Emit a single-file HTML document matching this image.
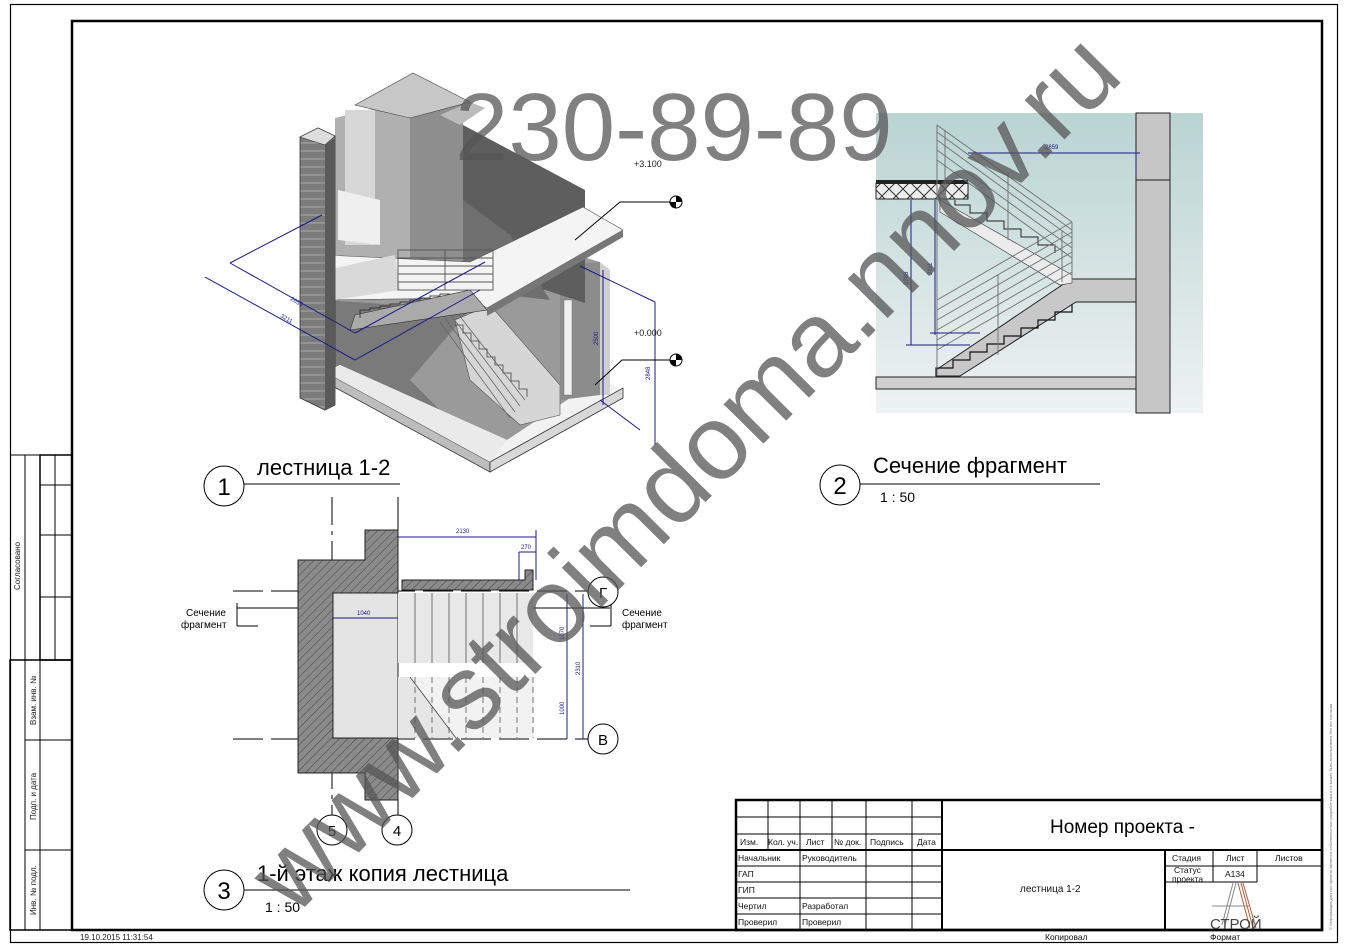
<!DOCTYPE html>
<html><head><meta charset="utf-8"><style>
html,body{margin:0;padding:0;background:#fff}
svg{display:block}
text{font-family:"Liberation Sans",sans-serif}
</style></head><body>
<svg width="1368" height="952" viewBox="0 0 1368 952" xmlns="http://www.w3.org/2000/svg">
<defs>
<pattern id="hat" width="6" height="6" patternUnits="userSpaceOnUse" patternTransform="rotate(45)">
<rect width="6" height="6" fill="#8a8a8a"/><line x1="0" y1="0" x2="0" y2="6" stroke="#444" stroke-width="1"/></pattern>
<pattern id="brick" width="8" height="8" patternUnits="userSpaceOnUse">
<rect width="8" height="8" fill="#7c7c7c"/><line x1="0" y1="7" x2="8" y2="7" stroke="#aaa" stroke-width="1"/></pattern>
<pattern id="dia" width="14" height="14" patternUnits="userSpaceOnUse">
<rect width="14" height="14" fill="#eee"/><path d="M0 0L14 14M14 0L0 14" stroke="#333" stroke-width="1"/></pattern>
<linearGradient id="sky" x1="0" y1="0" x2="0" y2="1"><stop offset="0" stop-color="#b9d4d2"/><stop offset="1" stop-color="#eef2f2"/></linearGradient>
</defs>

<rect x="10.5" y="4.5" width="1327" height="938" fill="none" stroke="#000" stroke-width="1.2"/>
<rect x="72" y="21" width="1250" height="909" fill="none" stroke="#000" stroke-width="2.5"/>

<g stroke="#000" stroke-width="1" fill="none">
<rect x="40" y="455" width="32" height="205" stroke-width="1.5"/>
<rect x="10" y="660" width="62" height="270" stroke-width="1.5"/>
<line x1="25" y1="455" x2="25" y2="660"/><line x1="10" y1="455" x2="40" y2="455"/>
<line x1="55" y1="455" x2="55" y2="660"/>
<line x1="40" y1="485" x2="72" y2="485"/><line x1="40" y1="535" x2="72" y2="535"/><line x1="40" y1="597" x2="72" y2="597"/>
<line x1="25" y1="660" x2="25" y2="930"/><line x1="40" y1="660" x2="40" y2="930"/>
<line x1="25" y1="740" x2="72" y2="740"/><line x1="25" y1="850" x2="72" y2="850"/>
</g>
<g font-size="8" fill="#222">
<text transform="translate(20,590) rotate(-90)">Согласовано</text>
<text transform="translate(36,725) rotate(-90)">Взам. инв. №</text>
<text transform="translate(36,820) rotate(-90)">Подп. и дата</text>
<text transform="translate(36,915) rotate(-90)">Инв. № подл.</text>
</g>
<text x="80" y="940" font-size="8" fill="#222">19.10.2015 11:31:54</text>
<text transform="translate(1332,930) rotate(-90)" font-size="4" fill="#666">© Информация данного проекта является собственностью разработчика и не может быть использована без его согласия</text>

<g>
<polygon points="325,290 470,298 560,250 600,262 600,395 507,462 325,372" fill="#9a9a9a"/>
<polygon points="325,300 470,310 410,380 490,460 325,372" fill="#7a7a7a"/>
<polygon points="325,372 490,462 623,390 600,378 507,440 340,365" fill="#f2f2f2"/>
<polygon points="325,372 490,462 490,472 325,382" fill="#bdbdbd" stroke="#333" stroke-width=".8"/>
<polygon points="490,462 623,388 623,398 490,472" fill="#d8d8d8" stroke="#333" stroke-width=".8"/>
<polygon points="325,372 340,365 507,440 490,462" fill="#eaeaea"/>
<polygon points="455,320 490,305 560,385 560,415 520,425 470,380" fill="#d6d6d6" stroke="#555" stroke-width=".6"/>
<path d="M455,325 l8,0 0,8 8,0 0,8 8,0 0,8 8,0 0,8 8,0 0,8 8,0 0,8 8,0 0,8 8,0 0,8 8,0 0,8" fill="none" stroke="#444" stroke-width=".8"/>
<g stroke="#666" stroke-width=".8"><line x1="440" y1="322" x2="510" y2="418"/><line x1="445" y1="318" x2="515" y2="412"/><line x1="450" y1="314" x2="520" y2="406"/><line x1="455" y1="310" x2="525" y2="400"/></g>
<polygon points="560,265 600,262 600,395 560,400" fill="#8c8c8c"/>
<rect x="564" y="300" width="8" height="95" fill="#f0f0f0" stroke="#777" stroke-width=".5"/>
<polygon points="600,262 610,270 610,395 600,395" fill="#cfcfcf"/>
<polygon points="410,100 463,100 463,265 410,262" fill="#8e8e8e"/>
<polygon points="463,125 585,190 585,303 463,263" fill="#5e5e5e"/>
<polygon points="463,200 510,235 550,300 463,290" fill="#6f6f6f"/>
<polygon points="335,118 410,100 410,262 335,255" fill="#b0b0b0"/>
<rect x="345" y="110" width="30" height="135" fill="#d7d7d7"/>
<polygon points="355,105 413,73 470,102 410,118" fill="#c7c7c7" stroke="#444" stroke-width=".6"/>
<polygon points="460,125 485,108 470,102 440,115" fill="#bbb"/>
<polygon points="338,190 380,200 380,245 338,240" fill="#efefef"/>
<polygon points="325,255 470,262 583,207 623,230 487,308 470,298 325,300" fill="#f4f4f4" stroke="#555" stroke-width=".6"/>
<polygon points="487,308 623,230 623,237 487,316" fill="#777"/>
<polygon points="335,268 395,255 400,290 335,300" fill="#d9d9d9"/>
<polygon points="355,315 470,290 487,310 350,330" fill="#aaa" stroke="#333" stroke-width=".6"/>
<path d="M360,318 l0,-8 10,0 0,-2 10,0 0,-2 10,0 0,-2 10,0 0,-2 10,0 0,-2 10,0 0,-2 10,0 0,-2 10,0 0,-2 10,0" fill="none" stroke="#222" stroke-width=".8"/>
<g stroke="#555" stroke-width=".9" fill="none">
<rect x="398" y="250" width="95" height="40"/>
<line x1="398" y1="258" x2="493" y2="258"/><line x1="398" y1="266" x2="493" y2="266"/><line x1="398" y1="274" x2="493" y2="274"/><line x1="398" y1="282" x2="493" y2="282"/>
<line x1="445" y1="250" x2="445" y2="290"/>
</g>
<polygon points="300,137 318,128 335,136 335,405 325,410 300,398" fill="url(#brick)" stroke="#333" stroke-width=".8"/>
<polygon points="325,145 335,138 335,405 325,410" fill="#5a5a5a"/>
<polygon points="300,137 318,128 335,136 325,145" fill="#ddd" stroke="#333" stroke-width=".6"/>
<g stroke="#1a1a8c" stroke-width="1" fill="none">
<line x1="205" y1="277" x2="355" y2="360"/><line x1="230" y1="263" x2="355" y2="333"/>
<line x1="230" y1="263" x2="322" y2="215"/><line x1="355" y1="333" x2="485" y2="262"/>
<line x1="355" y1="360" x2="480" y2="290"/>
<line x1="580" y1="266" x2="655" y2="302"/><line x1="655" y1="302" x2="655" y2="445"/>
<line x1="603" y1="270" x2="603" y2="405"/>
<line x1="600" y1="400" x2="640" y2="430"/>
</g>
<text transform="translate(290,300) rotate(30)" font-size="6" fill="#1a1a8c">2659</text>
<text transform="translate(280,317) rotate(30)" font-size="6" fill="#1a1a8c">3211</text>
<text transform="translate(598,345) rotate(-90)" font-size="6" fill="#1a1a8c">2500</text>
<text transform="translate(650,380) rotate(-90)" font-size="6" fill="#1a1a8c">2848</text>
<text x="634" y="167" font-size="9" fill="#222">+3.100</text>
<text x="634" y="336" font-size="9" fill="#222">+0.000</text>
<g stroke="#000" stroke-width="1" fill="none">
<polyline points="575,240 620,202 670,202"/><circle cx="676" cy="202" r="6"/>
<polyline points="595,385 622,360 670,360"/><circle cx="676" cy="360" r="6"/>
</g>
<path d="M676 196 A6 6 0 0 1 682 202 L676 202Z M676 208 A6 6 0 0 1 670 202 L676 202Z" fill="#000"/>
<path d="M676 354 A6 6 0 0 1 682 360 L676 360Z M676 366 A6 6 0 0 1 670 360 L676 360Z" fill="#000"/>
</g>

<circle cx="224" cy="486" r="20" fill="#fff" stroke="#000"/>
<text x="224" y="495" font-size="24" text-anchor="middle">1</text>
<line x1="244" y1="484" x2="400" y2="484" stroke="#000"/>
<text x="257" y="475" font-size="22">лестница 1-2</text>

<rect x="876" y="113" width="327" height="300" fill="url(#sky)"/>
<rect x="1136" y="113" width="34" height="300" fill="#c6c6c6" stroke="#222" stroke-width="1"/>
<line x1="1136" y1="180" x2="1170" y2="180" stroke="#222"/>
<rect x="876" y="377" width="260" height="12" fill="#cfcfcf" stroke="#222"/>
<rect x="876" y="183" width="92" height="16" fill="url(#dia)" stroke="#222"/>
<rect x="876" y="180" width="92" height="4" fill="#222"/>
<polygon points="1071,279 1136,279 1136,302 1076,302 960,376 936,376 936,370" fill="#c8c8c8" stroke="#222"/>
<path d="M936,376 l0,-8 17,0 0,-8 17,0 0,-8 17,0 0,-8 17,0 0,-8 17,0 0,-8 17,0 0,-8 17,0 0,-8 17,0 0,-8" fill="none" stroke="#111" stroke-width="1.2"/>
<polygon points="940,200 1072,275 1072,283 1060,285 940,212" fill="#ececec" stroke="#333" stroke-width=".6"/>
<path d="M955,200 l0,5 15,0 0,8 17,0 0,8 17,0 0,8 17,0 0,8 17,0 0,8 17,0 0,8" fill="none" stroke="#222"/>
<g stroke="#777" stroke-width="1" fill="none">
<line x1="937" y1="125" x2="1072" y2="222"/><line x1="937" y1="132" x2="1072" y2="230"/><line x1="937" y1="140" x2="1072" y2="238"/><line x1="937" y1="150" x2="1072" y2="248"/><line x1="937" y1="160" x2="1072" y2="258"/>
<line x1="937" y1="300" x2="1072" y2="222"/><line x1="937" y1="310" x2="1072" y2="232"/><line x1="937" y1="320" x2="1072" y2="242"/><line x1="937" y1="330" x2="1072" y2="252"/><line x1="937" y1="340" x2="1072" y2="262"/><line x1="937" y1="350" x2="1072" y2="272"/>
<line x1="937" y1="125" x2="937" y2="375"/><line x1="945" y1="130" x2="945" y2="185"/><line x1="1008" y1="172" x2="1008" y2="240"/><line x1="1062" y1="230" x2="1062" y2="282"/><line x1="1072" y1="222" x2="1072" y2="280"/><line x1="998" y1="275" x2="998" y2="355"/>
</g>
<g stroke="#1a1a8c" stroke-width="1" fill="none">
<line x1="968" y1="153" x2="1140" y2="153"/><line x1="1136" y1="153" x2="1136" y2="175"/>
<line x1="911" y1="200" x2="911" y2="345"/><line x1="935" y1="200" x2="935" y2="335"/>
<line x1="906" y1="345" x2="970" y2="345"/><line x1="930" y1="333" x2="980" y2="333"/>
</g>
<text x="1045" y="149" font-size="6" fill="#1a1a8c">2659</text>
<text transform="translate(908,285) rotate(-90)" font-size="6" fill="#1a1a8c">2288</text>
<text transform="translate(932,275) rotate(-90)" font-size="6" fill="#1a1a8c">2111</text>

<circle cx="840" cy="485" r="20" fill="#fff" stroke="#000"/>
<text x="840" y="494" font-size="24" text-anchor="middle">2</text>
<line x1="860" y1="484" x2="1100" y2="484" stroke="#000"/>
<text x="873" y="473" font-size="22">Сечение фрагмент</text>
<text x="880" y="502" font-size="14">1 : 50</text>

<g stroke="#000" stroke-width="1" fill="none">
<line x1="332" y1="497" x2="332" y2="818" stroke-dasharray="28,6,4,6"/>
<line x1="398" y1="497" x2="398" y2="818"/>
<line x1="233" y1="591" x2="590" y2="591" stroke-dasharray="30,8"/>
<line x1="233" y1="739" x2="590" y2="739" stroke-dasharray="30,8"/>
<line x1="237" y1="608" x2="610" y2="608"/>
<line x1="237" y1="603" x2="237" y2="626"/><line x1="237" y1="626" x2="258" y2="626"/>
<line x1="611" y1="603" x2="611" y2="626"/><line x1="590" y1="626" x2="611" y2="626"/>
</g>
<polygon points="298,560 365,560 365,530 398,530 398,800 365,800 365,773 298,773" fill="url(#hat)" stroke="#222"/>
<rect x="333" y="593" width="65" height="145" fill="#e4e4e4" stroke="#222"/>
<rect x="398" y="593" width="135" height="70" fill="#e8e8e8"/>
<g stroke="#555" stroke-width=".8">
<line x1="415" y1="593" x2="415" y2="663"/><line x1="432" y1="593" x2="432" y2="663"/><line x1="449" y1="593" x2="449" y2="663"/><line x1="466" y1="593" x2="466" y2="663"/><line x1="483" y1="593" x2="483" y2="663"/><line x1="500" y1="593" x2="500" y2="663"/><line x1="517" y1="593" x2="517" y2="663"/>
</g>
<rect x="398" y="677" width="135" height="61" fill="#f2f2f2"/>
<polygon points="398,677 410,677 456,738 398,738" fill="#e6e6e6"/>
<g stroke="#555" stroke-width=".8" stroke-dasharray="6,4">
<line x1="415" y1="677" x2="415" y2="738"/><line x1="432" y1="677" x2="432" y2="738"/><line x1="449" y1="677" x2="449" y2="738"/><line x1="466" y1="677" x2="466" y2="738"/><line x1="483" y1="677" x2="483" y2="738"/><line x1="500" y1="677" x2="500" y2="738"/><line x1="517" y1="677" x2="517" y2="738"/><line x1="533" y1="677" x2="533" y2="738"/>
</g>
<line x1="410" y1="677" x2="456" y2="738" stroke="#444" stroke-width=".8"/>
<polygon points="402,580 525,580 525,570 533,570 533,590 402,590" fill="url(#hat)" stroke="#222"/>
<g stroke="#1a1a8c" stroke-width="1" fill="none">
<line x1="398" y1="537" x2="536" y2="537"/><line x1="519" y1="552" x2="536" y2="552"/><line x1="536" y1="530" x2="536" y2="580"/><line x1="519" y1="552" x2="519" y2="580"/>
<line x1="333" y1="618" x2="398" y2="618"/>
<line x1="567" y1="594" x2="567" y2="739"/><line x1="583" y1="594" x2="583" y2="739"/>
</g>
<text x="456" y="533" font-size="6" fill="#1a1a8c">2130</text>
<text x="521" y="549" font-size="6" fill="#1a1a8c">270</text>
<text x="357" y="615" font-size="6" fill="#1a1a8c">1040</text>
<text transform="translate(564,640) rotate(-90)" font-size="6" fill="#1a1a8c">1070</text>
<text transform="translate(580,675) rotate(-90)" font-size="6" fill="#1a1a8c">2310</text>
<text transform="translate(564,715) rotate(-90)" font-size="6" fill="#1a1a8c">1000</text>
<g fill="#fff" stroke="#000">
<circle cx="603" cy="592" r="15"/><circle cx="603" cy="739" r="15"/>
<circle cx="332" cy="830" r="15"/><circle cx="397" cy="830" r="15"/>
</g>
<g font-size="15" text-anchor="middle">
<text x="603" y="598">Г</text><text x="603" y="745">В</text>
<text x="332" y="836">5</text><text x="397" y="836">4</text>
</g>
<g font-size="10">
<text x="186" y="616">Сечение</text><text x="181" y="628">фрагмент</text>
<text x="622" y="616">Сечение</text><text x="622" y="628">фрагмент</text>
</g>
<circle cx="224" cy="890" r="20" fill="#fff" stroke="#000"/>
<text x="224" y="899" font-size="24" text-anchor="middle">3</text>
<line x1="244" y1="890" x2="630" y2="890" stroke="#000"/>
<text x="257" y="881" font-size="22">1-й этаж копия лестница</text>
<text x="265" y="912" font-size="14">1 : 50</text>

<g stroke="#000" fill="none">
<rect x="736" y="800" width="586" height="130" stroke-width="2.5"/>
<line x1="942" y1="800" x2="942" y2="930" stroke-width="2"/>
<line x1="942" y1="850" x2="1322" y2="850" stroke-width="2"/>
<line x1="1165" y1="850" x2="1165" y2="930" stroke-width="2"/>
<g stroke-width="1">
<line x1="736" y1="817" x2="942" y2="817"/><line x1="736" y1="834" x2="942" y2="834"/>
<line x1="736" y1="850" x2="942" y2="850" stroke-width="2"/>
<line x1="736" y1="866" x2="942" y2="866"/><line x1="736" y1="882" x2="942" y2="882"/><line x1="736" y1="898" x2="942" y2="898"/><line x1="736" y1="914" x2="942" y2="914"/>
<line x1="768" y1="800" x2="768" y2="850"/><line x1="800" y1="800" x2="800" y2="930"/><line x1="832" y1="800" x2="832" y2="850"/><line x1="866" y1="800" x2="866" y2="930"/><line x1="912" y1="800" x2="912" y2="930"/>
<line x1="1165" y1="866" x2="1322" y2="866"/><line x1="1165" y1="882" x2="1257" y2="882"/>
<line x1="1213" y1="850" x2="1213" y2="882"/><line x1="1257" y1="850" x2="1257" y2="882"/>
</g>
</g>
<g font-size="8.5" fill="#111">
<text x="740" y="845">Изм.</text><text x="768" y="845">Кол. уч.</text><text x="806" y="845">Лист</text><text x="834" y="845">№ док.</text><text x="870" y="845">Подпись</text><text x="917" y="845">Дата</text>
<text x="738" y="861">Начальник</text><text x="802" y="861">Руководитель</text>
<text x="738" y="877">ГАП</text><text x="738" y="893">ГИП</text>
<text x="738" y="909">Чертил</text><text x="802" y="909">Разработал</text>
<text x="738" y="925">Проверил</text><text x="802" y="925">Проверил</text>
<text x="1172" y="861">Стадия</text><text x="1226" y="861">Лист</text><text x="1275" y="861">Листов</text>
<text x="1174" y="873">Статус</text><text x="1172" y="882">проекта</text><text x="1225" y="877">А134</text>
<text x="1020" y="892" font-size="10">лестница 1-2</text>
<text x="1045" y="940">Копировал</text><text x="1210" y="940">Формат</text>
</g>
<text x="1050" y="833" font-size="19">Номер проекта -</text>
<g stroke="#b85a3a" stroke-width="1"><line x1="1238" y1="883" x2="1250" y2="928"/><line x1="1241" y1="883" x2="1253" y2="928"/><line x1="1243" y1="883" x2="1256" y2="928"/></g>
<g stroke="#888" stroke-width="1"><line x1="1236" y1="883" x2="1225" y2="925"/><line x1="1233" y1="883" x2="1222" y2="925"/><line x1="1212" y1="906" x2="1250" y2="906"/></g>
<text x="1210" y="929" font-size="15" font-family="Liberation Serif,serif" fill="#444">СТРОЙ</text>

<text x="455" y="160" font-size="96" fill="#555" fill-opacity="0.75">230-89-89</text>
<g transform="translate(690,478) rotate(-45.3)">
<text x="0" y="28" font-size="106" text-anchor="middle" fill="#555" fill-opacity="0.75">www.stroimdoma.nnov.ru</text>
</g>
</svg>
</body></html>
